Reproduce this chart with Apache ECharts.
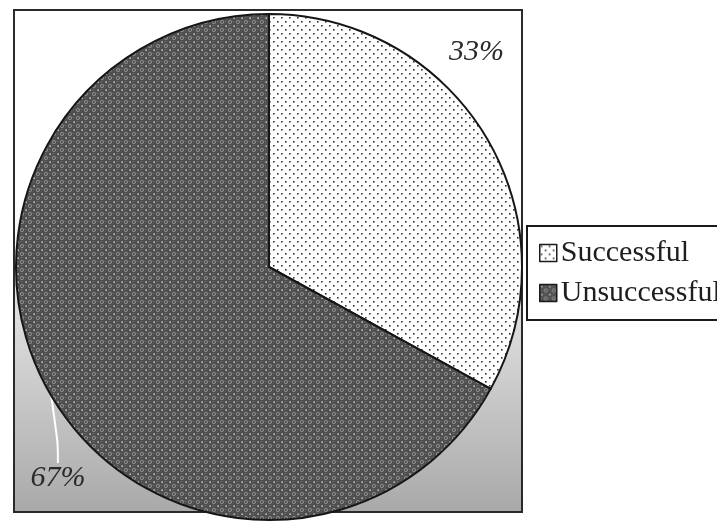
<!DOCTYPE html>
<html>
<head>
<meta charset="utf-8">
<script src="https://cdn.jsdelivr.net/npm/echarts@6/dist/echarts.min.js"></script>
<style>
  html, body { margin: 0; padding: 0; background: #fff; }
  #chart { width: 717px; height: 522px; }
</style>
</head>
<body>
<div id="chart"></div>
<script>
// chart data
const categories = ['Successful', 'Unsuccessful'];
const shares = [33, 67];
// angle (deg, clockwise from 12 o'clock) where each percentage label sits
const labelAngles = [44, 225];

const CX = 269, CY = 267, R = 253;

function makePattern(bg, draw) {
    var c = document.createElement('canvas');
    c.width = 8; c.height = 8;
    var ctx = c.getContext('2d');
    ctx.fillStyle = bg;
    ctx.fillRect(0, 0, 8, 8);
    draw(ctx);
    return { image: c, repeat: 'repeat' };
}

// white with sparse black dots
var dotted = makePattern('#ffffff', function (ctx) {
    ctx.fillStyle = '#333';
    ctx.fillRect(1, 1, 1.6, 1.6);
    ctx.fillRect(5, 5, 1.6, 1.6);
});

// dark grey with light rings and white points
var darkPattern = makePattern('#505050', function (ctx) {
    ctx.strokeStyle = '#a0a0a0';
    ctx.lineWidth = 0.8;
    ctx.beginPath();
    ctx.arc(6, 6, 1.6, 0, Math.PI * 2);
    ctx.stroke();
    ctx.fillStyle = '#f2f2f2';
    ctx.fillRect(1.5, 1.5, 1.3, 1.3);
    ctx.fillStyle = '#727272';
    ctx.fillRect(5, 1, 1, 1);
    ctx.fillRect(1, 5, 1, 1);
});

var data = categories.map(function (name, i) {
    return { name: name, value: shares[i] };
});

var myChart = echarts.init(document.getElementById('chart'));
var option = {
    animation: false,
    backgroundColor: '#ffffff',
    graphic: [
        {
            type: 'rect',
            z: -10,
            shape: { x: 14, y: 10, width: 508, height: 502 },
            style: {
                fill: new echarts.graphic.LinearGradient(0, 0, 0, 1, [
                    { offset: 0, color: '#ffffff' },
                    { offset: 0.38, color: '#ffffff' },
                    { offset: 0.62, color: '#dcdcdc' },
                    { offset: 1, color: '#a9a9a9' }
                ]),
                stroke: '#2a2a2a',
                lineWidth: 2
            }
        }
    ],
    legend: {
        orient: 'vertical',
        left: 527,
        top: 226,
        data: categories,
        icon: 'rect',
        itemWidth: 17,
        itemHeight: 17,
        itemGap: 10,
        padding: [12, 20, 12, 12],
        borderColor: '#1a1a1a',
        borderWidth: 2,
        itemStyle: { borderColor: '#1a1a1a', borderWidth: 1.5 },
        textStyle: {
            fontFamily: 'Liberation Serif',
            fontSize: 30,
            color: '#1e1e1e',
            padding: [0, 0, 0, -1]
        }
    },
    series: [
        {
            type: 'pie',
            center: [CX, CY],
            radius: R,
            startAngle: 90,
            clockwise: true,
            avoidLabelOverlap: false,
            data: data,
            itemStyle: { borderColor: '#161616', borderWidth: 2 },
            color: [dotted, darkPattern],
            label: {
                show: true,
                position: 'outside',
                alignTo: 'none',
                overflow: 'none',
                formatter: '{c}%',
                fontFamily: 'Liberation Serif',
                fontStyle: 'italic',
                fontSize: 30,
                color: '#2a2a2a'
            },
            labelLine: {
                show: true,
                length: 20,
                length2: 20,
                smooth: 0.3,
                lineStyle: { color: '#ffffff', width: 2 }
            },
            labelLayout: function (params) {
                var a = labelAngles[params.dataIndex] * Math.PI / 180;
                return {
                    x: CX + Math.sin(a) * R * 1.18,
                    y: CY - Math.cos(a) * R * 1.18,
                    align: 'center',
                    verticalAlign: 'middle',
                    width: 80
                };
            },
            emphasis: { disabled: true }
        }
    ]
};
option.series[0].data[0].labelLine = { show: false };
myChart.setOption(option);
</script>
</body>
</html>
